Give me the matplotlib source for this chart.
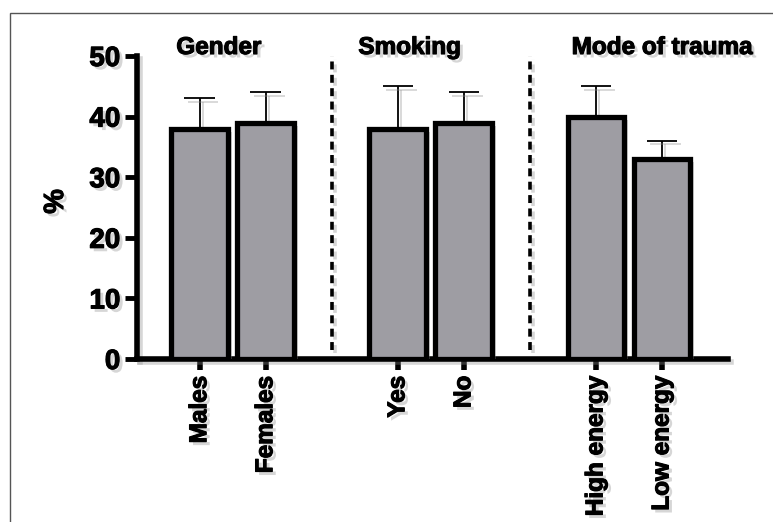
import matplotlib.pyplot as plt
import matplotlib.patheffects as pe
from matplotlib.patches import Rectangle

plt.rcParams['font.family'] = ['Liberation Sans', 'DejaVu Sans']
plt.rcParams['font.weight'] = 'bold'

categories = ['Males', 'Females', 'Yes', 'No', 'High energy', 'Low energy']
positions = [0, 1, 3, 4, 6, 7]
means = [38, 39, 38, 39, 40, 33]
upper_err = [5, 5, 7, 5, 5, 3]
groups = ['Gender', 'Smoking', 'Mode of trauma']
group_x = [0.29, 3.18, 7.0]
separators = [2, 5]

shadow = [pe.SimplePatchShadow(offset=(2.5, -2.5), shadow_rgbFace='0.55', alpha=0.35), pe.Normal()]
line_shadow = [pe.SimpleLineShadow(offset=(2.5, -2.5), shadow_color='0.55', alpha=0.35), pe.Normal()]
# heavier strokes for text, to get the black-weight look
text_fx = [pe.SimplePatchShadow(offset=(2.5, -2.5), shadow_rgbFace='0.55', alpha=0.35),
           pe.withStroke(linewidth=0.8, foreground='black')]

fig = plt.figure(figsize=(7.73, 5.22), dpi=100)
fig.patches.append(Rectangle((10 / 773, -0.05), 1.1, 1 - 13 / 522 + 0.05,
                             transform=fig.transFigure, fill=False,
                             edgecolor='#555555', linewidth=1.0))
ax = fig.add_axes([137 / 773, 1 - 359 / 522, (728 - 137) / 773, (359 - 56) / 522])

bars = ax.bar(positions, means, width=0.86, color='#9e9da3', edgecolor='black',
              linewidth=3.8, zorder=3)
for b in bars:
    b.set_path_effects(shadow)

err = ax.errorbar(positions, means, yerr=[[0] * len(means), upper_err], fmt='none',
                  ecolor='black', elinewidth=1.3, capsize=11, capthick=1.3, zorder=2)
for ln in err.lines[1]:
    ln.set_path_effects(line_shadow)
for coll in err.lines[2]:
    coll.set_path_effects(line_shadow)

for x in separators:
    ax.plot([x, x], [1.5, 50], color='black', linestyle=(0, (2.2, 1.5)),
            linewidth=2.6, zorder=2, path_effects=line_shadow, clip_on=False)

for name, gx in zip(groups, group_x):
    ax.text(gx, 51.4, name, ha='center', va='center', fontsize=17.5, fontweight='bold',
            path_effects=text_fx, clip_on=False)

ax.set_xlim(-0.95, 8.0)
ax.set_ylim(0, 50)
ax.set_yticks([0, 10, 20, 30, 40, 50])
ax.set_xticks(positions)
ax.set_xticklabels(categories, rotation=90, fontsize=17.5, fontweight='bold')
ax.tick_params(axis='y', labelsize=20, width=3.5, length=9, direction='out', pad=3)
ax.tick_params(axis='x', width=4, length=8, direction='out', pad=4)
for lbl in ax.get_xticklabels() + ax.get_yticklabels():
    lbl.set_path_effects(text_fx)

ax.set_ylabel('%', fontsize=20, fontweight='bold', path_effects=text_fx)
ax.yaxis.set_label_coords(-0.115, 0.52)

for side in ['top', 'right']:
    ax.spines[side].set_visible(False)
for side in ['left', 'bottom']:
    ax.spines[side].set_linewidth(4)
    ax.spines[side].set_path_effects(line_shadow)

fig.savefig('out.png', dpi=100)
